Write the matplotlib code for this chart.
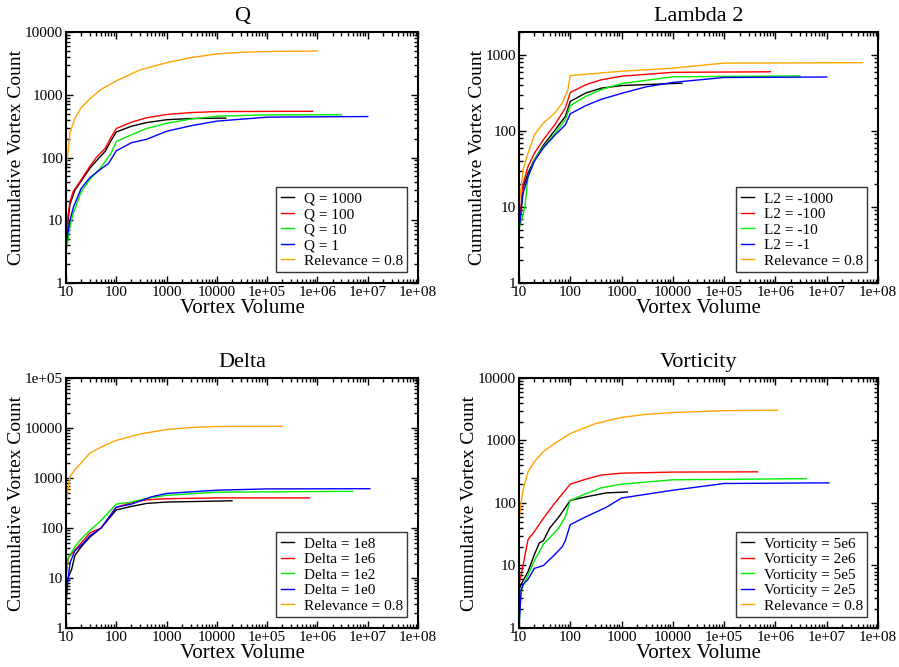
import math
import matplotlib
matplotlib.use("Agg")
import matplotlib.pyplot as plt
from matplotlib.ticker import LogLocator, FuncFormatter, NullFormatter

plt.rcParams['font.family'] = ['Liberation Serif', 'DejaVu Serif']

colors = ['black', 'red', '#00ee00', 'blue', 'orange']

# ---- Q ----
q_labels = ['Q = 1000', 'Q = 100', 'Q = 10', 'Q = 1', 'Relevance = 0.8']
q_x = [
    [10, 11, 12, 15, 20, 30, 40, 60, 80, 100, 200, 400, 1000, 3000, 15000],
    [10, 11, 12, 14, 20, 30, 40, 60, 80, 100, 200, 400, 1000, 3000, 10000, 800000],
    [10, 12, 14, 20, 30, 50, 80, 100, 200, 400, 1000, 3000, 10000, 100000, 3000000],
    [10, 12, 14, 20, 30, 50, 70, 100, 200, 400, 1000, 3000, 10000, 100000, 10000000],
    [10, 11, 12, 15, 20, 30, 50, 100, 300, 1000, 3000, 10000, 30000, 100000, 1000000],
]
q_y = [
    [4, 10, 18, 30, 42, 68, 88, 125, 190, 255, 315, 360, 400, 418, 425],
    [4, 12, 20, 29, 44, 73, 100, 140, 215, 290, 365, 430, 485, 520, 540, 545],
    [3, 8, 13, 28, 45, 70, 120, 180, 230, 290, 350, 410, 455, 478, 480],
    [4, 10, 16, 32, 48, 66, 80, 128, 172, 195, 262, 320, 380, 440, 450],
    [60, 125, 245, 420, 620, 860, 1220, 1660, 2500, 3240, 3900, 4480, 4750, 4880, 4980],
]

# ---- Lambda 2 ----
l2_labels = ['L2 = -1000', 'L2 = -100', 'L2 = -10', 'L2 = -1', 'Relevance = 0.8']
l2_x = [
    [10, 12, 15, 20, 30, 50, 80, 100, 200, 400, 1000, 15000],
    [10, 12, 15, 20, 30, 50, 80, 100, 200, 400, 1000, 10000, 800000],
    [10, 13, 15, 20, 30, 50, 80, 100, 200, 400, 1000, 10000, 3000000],
    [10, 12, 15, 20, 30, 50, 80, 100, 200, 400, 1000, 3000, 10000, 100000, 10000000],
    [10, 12, 15, 20, 30, 50, 70, 90, 100, 1000, 10000, 100000, 50000000],
]
l2_y = [
    [5, 18, 28, 42, 65, 102, 155, 245, 315, 365, 395, 425],
    [5, 20, 34, 51, 77, 121, 200, 320, 405, 470, 525, 590, 600],
    [5, 10, 25, 42, 62, 92, 140, 215, 285, 350, 420, 515, 530],
    [5, 15, 25, 40, 60, 88, 120, 168, 215, 260, 312, 380, 435, 505, 512],
    [10, 31, 51, 89, 127, 172, 233, 350, 535, 610, 670, 780, 790],
]

# ---- Delta ----
d_labels = ['Delta = 1e8', 'Delta = 1e6', 'Delta = 1e2', 'Delta = 1e0', 'Relevance = 0.8']
d_x = [
    [10, 11, 13, 15, 20, 30, 50, 100, 200, 400, 1000, 20000],
    [10, 11, 15, 20, 30, 50, 100, 200, 400, 1000, 10000, 700000],
    [10, 11, 15, 20, 30, 50, 100, 200, 400, 1000, 10000, 5000000],
    [10, 12, 15, 20, 30, 50, 100, 200, 500, 1000, 10000, 100000, 11000000],
    [10, 11, 12, 15, 20, 30, 50, 100, 300, 1000, 3000, 10000, 200000],
]
d_y = [
    [3, 10, 15, 28, 42, 66, 100, 230, 270, 310, 330, 350],
    [10, 25, 36, 50, 80, 100, 260, 320, 365, 385, 400, 400],
    [10, 25, 42, 60, 90, 142, 300, 330, 390, 450, 520, 540],
    [4, 20, 35, 45, 70, 100, 260, 300, 420, 490, 570, 605, 610],
    [300, 580, 1070, 1470, 2000, 3160, 4150, 5650, 7600, 9300, 10200, 10700, 10800],
]

# ---- Vorticity ----
v_labels = ['Vorticity = 5e6', 'Vorticity = 2e6', 'Vorticity = 5e5',
            'Vorticity = 2e5', 'Relevance = 0.8']
v_x = [
    [10, 11, 15, 20, 25, 30, 40, 60, 100, 200, 500, 1300],
    [10, 11, 12, 15, 20, 30, 50, 80, 100, 200, 400, 1000, 10000, 450000],
    [10, 11, 15, 20, 30, 40, 60, 80, 100, 200, 400, 1000, 10000, 4000000],
    [10, 11, 12, 15, 20, 30, 50, 70, 80, 100, 200, 500, 1000, 10000, 100000, 11000000],
    [10, 11, 12, 15, 20, 30, 50, 100, 300, 1000, 3000, 10000, 100000, 1100000],
]
v_y = [
    [4, 5, 8, 15, 23, 25, 40, 60, 110, 125, 145, 150],
    [5, 7, 10, 26, 35, 57, 100, 160, 200, 240, 280, 300, 312, 315],
    [1, 4, 7, 12, 22, 28, 40, 60, 110, 140, 175, 200, 235, 245],
    [1, 4, 5, 6, 9, 10, 15, 20, 25, 45, 60, 85, 120, 160, 205, 210],
    [50, 100, 160, 316, 460, 665, 900, 1290, 1850, 2340, 2620, 2800, 3000, 3050],
]

panels = [
    ('Q', q_x, q_y, q_labels, (1, 10000), [0.0734, 0.5757, 0.3916, 0.3763]),
    ('Lambda 2', l2_x, l2_y, l2_labels, (1, 2000), [0.5773, 0.5757, 0.3993, 0.3763]),
    ('Delta', d_x, d_y, d_labels, (1, 100000), [0.0734, 0.0585, 0.3916, 0.3748]),
    ('Vorticity', v_x, v_y, v_labels, (1, 10000), [0.5773, 0.0585, 0.3993, 0.3748]),
]


def fmt(v, pos):
    # grace style: plain numbers up to 10000, then 1e+05 ...
    if v >= 1e5:
        return '1e+%02d' % round(math.log10(v))
    return '%d' % v


fig = plt.figure(figsize=(8.99, 6.67), dpi=100)

for title, xs, ys, labels, ylim, rect in panels:
    ax = fig.add_axes(rect)
    for x, y, c, lab in zip(xs, ys, colors, labels):
        ax.plot(x, y, color=c, lw=1.0, label=lab)
    ax.set_xscale('log')
    ax.set_yscale('log')
    ax.set_xlim(10, 1e8)
    ax.set_ylim(*ylim)
    for axis in (ax.xaxis, ax.yaxis):
        axis.set_major_locator(LogLocator(base=10, numticks=20))
        axis.set_minor_locator(LogLocator(base=10, subs=range(2, 10), numticks=20))
        axis.set_major_formatter(FuncFormatter(fmt))
        axis.set_minor_formatter(NullFormatter())
    ax.tick_params(which='both', direction='in', top=True, right=True,
                   labelsize=11, width=1.0, pad=2)
    ax.tick_params(which='major', length=5)
    ax.tick_params(which='minor', length=3)
    for s in ax.spines.values():
        s.set_linewidth(1.5)
    ax.set_title(title, fontsize=16, pad=8)
    ax.set_xlabel('Vortex Volume', fontsize=15, labelpad=0.5)
    ax.set_ylabel('Cummulative Vortex Count', fontsize=14, labelpad=0)
    leg = ax.legend(loc='lower right', fontsize=11, handlelength=0.9,
                    handletextpad=0.6, labelspacing=0.12, borderpad=0.3,
                    fancybox=False, framealpha=1, borderaxespad=0.7)
    leg.get_frame().set_edgecolor('#333333')
    leg.get_frame().set_linewidth(1.0)

fig.savefig('out.png', dpi=100)
